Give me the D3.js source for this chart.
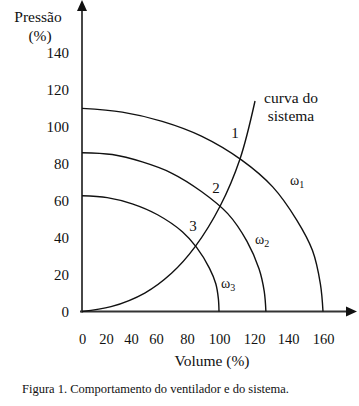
<!DOCTYPE html>
<html>
<head>
<meta charset="utf-8">
<script src="https://cdn.jsdelivr.net/npm/d3@7"></script>
<style>
    body { margin: 0; background: #fff; }
</style>
</head>
<body>
<div id="chart"></div>
<script>
// Axis ticks
const xTicks = [0, 20, 40, 60, 80, 100, 120, 140, 160];
const yTicks = [0, 20, 40, 60, 80, 100, 120, 140];

// Fan curves (volume %, pressure %)
const omega1 = [[0, 110], [33, 108], [64, 103], [89, 95], [113, 82], [131, 67.5], [145, 49.5], [154, 33], [158.5, 15], [160, 0]];
const omega2 = [[0, 86], [25, 85], [49, 81], [70, 75], [89, 65], [105, 53], [116, 38], [123, 23], [126, 11], [127, 0]];
const omega3 = [[0, 62.7], [21, 61.7], [41, 58.3], [61, 52.4], [77, 43.2], [86, 34.7], [94, 23.5], [98, 15], [99.6, 7], [100, 0]];

// System curve
const systemCurve = [[0, 0], [24, 2.6], [51, 10], [70, 20.7], [85, 35], [100.6, 57], [112, 82.6], [120.6, 114]];

// Operating points / speed labels
const pointLabels = ["1", "2", "3"];
const omegaLabels = ["1", "2", "3"];

const width = 359, height = 406;
const serif = "'Liberation Serif', 'Times New Roman', Tinos, 'DejaVu Serif', serif";

// the x axis of the original figure is not evenly spaced
const xTickPx = [82, 106, 131, 156, 187, 219, 254, 288, 323];

const x = d3.scaleLinear().domain(xTicks).range(xTickPx);
const y = d3.scaleLinear().domain([0, 140]).range([311.5, 53]);

const svg = d3.select("#chart").append("svg")
    .attr("width", width)
    .attr("height", height)
    .attr("font-family", serif)
    .attr("fill", "#111");

// Axes
const axisColor = "#333";
svg.append("line")
    .attr("x1", x(0)).attr("x2", x(0))
    .attr("y1", y(0) + 1).attr("y2", 8)
    .attr("stroke", axisColor).attr("stroke-width", 1.8);
svg.append("path")
    .attr("d", `M${x(0)},0 L${x(0) - 5},11 L${x(0) + 5},11 Z`)
    .attr("fill", "#111");

svg.append("line")
    .attr("x1", x(0) - 2).attr("x2", 349)
    .attr("y1", y(0)).attr("y2", y(0))
    .attr("stroke", axisColor).attr("stroke-width", 2);
svg.append("path")
    .attr("d", `M357,${y(0)} L346,${y(0) - 5} L346,${y(0) + 5} Z`)
    .attr("fill", "#111");

// Tick labels
svg.selectAll(".ytick")
    .data(yTicks)
    .join("text")
    .attr("class", "ytick")
    .attr("x", 69)
    .attr("y", d => y(d) + 5)
    .attr("text-anchor", "end")
    .attr("font-size", 15)
    .text(d => d);

svg.selectAll(".xtick")
    .data(xTicks)
    .join("text")
    .attr("class", "xtick")
    .attr("x", d => x(d) + 0.5)
    .attr("y", 344)
    .attr("text-anchor", "middle")
    .attr("font-size", 14.5)
    .text(d => d);

// Axis titles
svg.append("text")
    .attr("x", 38).attr("y", 22)
    .attr("text-anchor", "middle")
    .attr("font-size", 15.5)
    .text("Pressão");
svg.append("text")
    .attr("x", 40).attr("y", 41)
    .attr("text-anchor", "middle")
    .attr("font-size", 15.5)
    .text("(%)");
svg.append("text")
    .attr("x", 212).attr("y", 366)
    .attr("text-anchor", "middle")
    .attr("font-size", 15.5)
    .text("Volume (%)");

// Curves
const line = d3.line()
    .x(d => x(d[0]))
    .y(d => y(d[1]))
    .curve(d3.curveCatmullRom.alpha(0.5));

svg.selectAll(".fan")
    .data([omega1, omega2, omega3, systemCurve])
    .join("path")
    .attr("class", "fan")
    .attr("d", line)
    .attr("fill", "none")
    .attr("stroke", "#111")
    .attr("stroke-width", 1.4);

// System curve label
svg.append("text")
    .attr("x", 291).attr("y", 103)
    .attr("text-anchor", "middle")
    .attr("font-size", 15.5)
    .text("curva do");
svg.append("text")
    .attr("x", 291).attr("y", 121)
    .attr("text-anchor", "middle")
    .attr("font-size", 15.5)
    .text("sistema");

// Operating point numbers
const pointPos = [[235, 138], [216, 193], [193, 231]];
svg.selectAll(".pt")
    .data(pointLabels)
    .join("text")
    .attr("class", "pt")
    .attr("x", (d, i) => pointPos[i][0])
    .attr("y", (d, i) => pointPos[i][1])
    .attr("text-anchor", "middle")
    .attr("font-size", 15)
    .text(d => d);

// Speed labels
const omegaPos = [[290, 185], [255, 244], [221, 288]];
const om = svg.selectAll(".omega")
    .data(omegaLabels)
    .join("text")
    .attr("class", "omega")
    .attr("x", (d, i) => omegaPos[i][0])
    .attr("y", (d, i) => omegaPos[i][1])
    .attr("font-size", 14)
    .text("ω");
om.append("tspan")
    .attr("dy", 3)
    .attr("font-size", 10)
    .text(d => d);

// Caption
svg.append("text")
    .attr("x", 22).attr("y", 393)
    .attr("font-size", 12.5)
    .text("Figura 1. Comportamento do ventilador e do sistema.");
</script>
</body>
</html>
